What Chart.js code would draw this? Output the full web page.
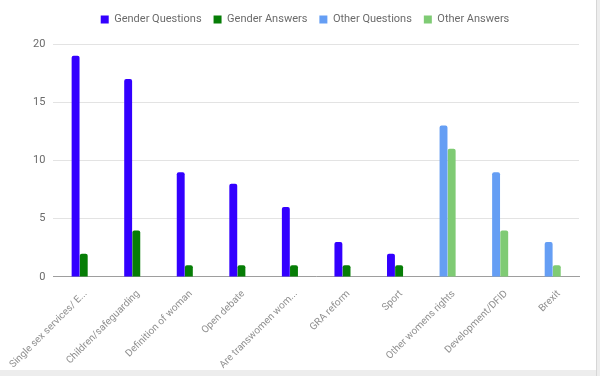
<!DOCTYPE html>
<html>
<head>
<meta charset="utf-8">
<script src="https://cdn.jsdelivr.net/npm/chart.js@4"></script>
<style>
    html, body { margin: 0; padding: 0; background: #fff; }
    #wrap { width: 600px; height: 376px; position: relative; overflow: hidden; }
    #wrap canvas { display: block; }
    .edge-b { position: absolute; left: 0; right: 0; bottom: 0; height: 6px; background: #ededed; }
    .edge-r { position: absolute; top: 0; bottom: 0; right: 0; width: 3px; background: #ededed; border-left: 1px solid #d6d6d6; }
</style>
</head>
<body>
<div id="wrap">
    <canvas id="topicsChart" width="600" height="376"></canvas>
    <div class="edge-b"></div>
    <div class="edge-r"></div>
</div>
<script>
const categories = ['Single sex services/ E...', 'Children/safeguarding', 'Definition of woman', 'Open debate',
    'Are transwomen wom...', 'GRA reform', 'Sport', 'Other womens rights', 'Development/DFID', 'Brexit'];
const genderQuestions = [19, 17, 9, 8, 6, 3, 2, null, null, null];
const genderAnswers = [2, 4, 1, 1, 1, 1, 1, null, null, null];
const otherQuestions = [null, null, null, null, null, null, null, 13, 9, 3];
const otherAnswers = [null, null, null, null, null, null, null, 11, 4, 1];
const yTicks = [0, 5, 10, 15, 20];

function series(label, data, color, stack) {
    return {
        label: label,
        data: data,
        backgroundColor: color,
        stack: stack,
        borderRadius: { topLeft: 2, topRight: 2 },
        borderSkipped: 'bottom',
        barPercentage: 0.97,
        categoryPercentage: 0.31
    };
}

// extra room under the legend
const legendGap = {
    id: 'legendGap',
    beforeInit(chart) {
        const fit = chart.legend.fit;
        chart.legend.fit = function() {
            fit.bind(chart.legend)();
            this.height += 9;
        };
    }
};

document.addEventListener('DOMContentLoaded', function() {
    new Chart(document.getElementById('topicsChart'), {
        type: 'bar',
        data: {
            labels: categories,
            datasets: [
                series('Gender Questions', genderQuestions, '#3300ff', 'questions'),
                series('Gender Answers', genderAnswers, '#067d06', 'answers'),
                series('Other Questions', otherQuestions, '#659ef4', 'questions'),
                series('Other Answers', otherAnswers, '#7fcb74', 'answers')
            ]
        },
        options: {
            responsive: false,
            animation: false,
            layout: { padding: { top: 2, right: 21, left: 31, bottom: 2 } },
            plugins: {
                legend: {
                    position: 'top',
                    labels: {
                        boxWidth: 8,
                        boxHeight: 8,
                        padding: 12,
                        color: '#6b6b6b',
                        font: { family: 'Roboto', size: 11 }
                    }
                },
                tooltip: { enabled: false }
            },
            scales: {
                x: {
                    stacked: true,
                    grid: { display: false },
                    border: { color: '#9e9e9e', width: 1 },
                    ticks: {
                        minRotation: 45,
                        maxRotation: 45,
                        autoSkip: false,
                        labelOffset: 6,
                        color: '#8f8f8f',
                        font: { family: 'Roboto', size: 10 }
                    }
                },
                y: {
                    stacked: true,
                    min: 0,
                    max: yTicks[yTicks.length - 1],
                    afterBuildTicks: function(axis) {
                        axis.ticks = yTicks.map(v => ({ value: v }));
                    },
                    afterFit: function(axis) {
                        axis.width = 21;
                    },
                    border: { display: false },
                    grid: { color: '#e3e3e3', drawTicks: false },
                    ticks: {
                        padding: 8,
                        color: '#6b6b6b',
                        font: { family: 'Roboto', size: 11 }
                    }
                }
            }
        },
        plugins: [legendGap]
    });
});
</script>
</body>
</html>
